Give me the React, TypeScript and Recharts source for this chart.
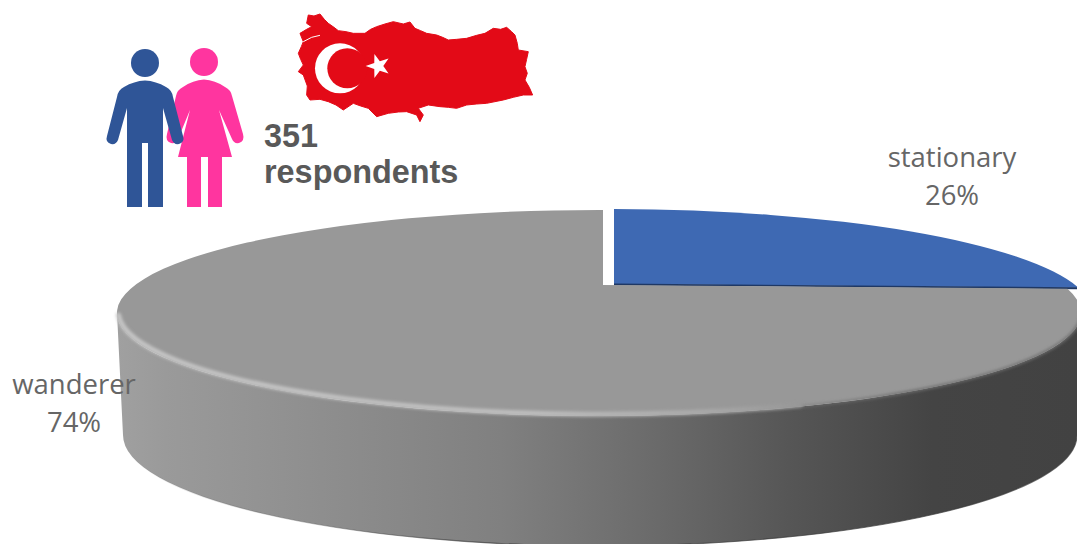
import { PieChart, Pie } from "recharts";

const categories = ["stationary", "wanderer"];
const shares = [26, 74];
const sliceColors = ["#3e69b3", "#989898"];
const respondentLines = ["351", "respondents"];

const chartData = categories.map((name, i) => ({
  name,
  value: shares[i],
  fill: sliceColors[i],
}));

// disc outline, seen in perspective
const TOP = { x: 599, y: 313, rx: 482, ry: 103 };
const BOTTOM = { x: 600, y: 435, rx: 477, ry: 111 };
const TILT = 0.285;
const DEPTH_SCALE = 60;
const EXPLODE = { x: 11, y: -1 };

const labelPositions: Record<string, { x: number; y: number }> = {
  stationary: { x: 952, y: 167 },
  wanderer: { x: 74, y: 394 },
};

// where the ray for a pie angle leaves the top ellipse
function rimPoint(angle: number, cx: number, cy: number, radius: number) {
  const rad = (angle * Math.PI) / 180;
  const u = Math.cos(rad);
  const v = Math.sin(rad);
  const w = 1 + TILT * v;
  const dx = (radius * u) / w;
  const dy = (-DEPTH_SCALE * v) / w;
  const px = (cx - TOP.x) / TOP.rx;
  const py = (cy - TOP.y) / TOP.ry;
  const qx = dx / TOP.rx;
  const qy = dy / TOP.ry;
  const a = qx * qx + qy * qy;
  const b = 2 * (px * qx + py * qy);
  const c = px * px + py * py - 1;
  const t = (-b + Math.sqrt(b * b - 4 * a * c)) / (2 * a);
  return { x: cx + t * dx, y: cy + t * dy };
}

function DiscSlice(props: any) {
  const { cx, cy, outerRadius, startAngle, endAngle, fill } = props;
  const from = rimPoint(startAngle, cx, cy, outerRadius);
  const to = rimPoint(endAngle, cx, cy, outerRadius);
  const large = Math.abs(endAngle - startAngle) > 180 ? 1 : 0;
  const face = `M${cx} ${cy} L${from.x} ${from.y} A${TOP.rx} ${TOP.ry} 0 ${large} 1 ${to.x} ${to.y} Z`;
  const spansFront = startAngle > -90 && endAngle < -90;

  if (!spansFront) {
    // the exploded slice sits a little to the right, with a thin dark lip
    return (
      <g transform={`translate(${EXPLODE.x} ${EXPLODE.y})`}>
        <path d={face} fill={fill} />
        <line x1={cx} y1={cy + 0.5} x2={to.x} y2={to.y + 0.5} stroke="#1f3864" strokeWidth={1.8} />
      </g>
    );
  }

  const left = TOP.x - TOP.rx;
  const right = TOP.x + TOP.rx;
  const rimFront = `M${left} ${TOP.y} A${TOP.rx} ${TOP.ry} 0 0 0 ${right} ${TOP.y}`;
  const wall =
    `${rimFront} L${BOTTOM.x + BOTTOM.rx} ${BOTTOM.y} ` +
    `A${BOTTOM.rx} ${BOTTOM.ry} 0 0 1 ${BOTTOM.x - BOTTOM.rx} ${BOTTOM.y} Z`;
  const lowerEdge = `M${BOTTOM.x - BOTTOM.rx} ${BOTTOM.y} A${BOTTOM.rx} ${BOTTOM.ry} 0 0 0 ${BOTTOM.x + BOTTOM.rx} ${BOTTOM.y}`;

  return (
    <g>
      <defs>
        <linearGradient id="wallShade" gradientUnits="userSpaceOnUse" x1={117} y1={0} x2={1077} y2={0}>
          <stop offset="0%" stopColor="#a0a0a0" />
          <stop offset="5%" stopColor="#9a9a9a" />
          <stop offset="20%" stopColor="#8f8f8f" />
          <stop offset="40%" stopColor="#808080" />
          <stop offset="55%" stopColor="#6c6c6c" />
          <stop offset="70%" stopColor="#565656" />
          <stop offset="85%" stopColor="#444444" />
          <stop offset="100%" stopColor="#424242" />
        </linearGradient>
        <linearGradient id="rimGlow" gradientUnits="userSpaceOnUse" x1={117} y1={0} x2={800} y2={0}>
          <stop offset="0%" stopColor="#c4c4c4" />
          <stop offset="60%" stopColor="#bebebe" />
          <stop offset="85%" stopColor="#aaaaaa" />
          <stop offset="100%" stopColor="#989898" />
        </linearGradient>
        <linearGradient id="rimFade" gradientUnits="userSpaceOnUse" x1={700} y1={0} x2={900} y2={0}>
          <stop offset="0%" stopColor="#808080" stopOpacity={0} />
          <stop offset="100%" stopColor="#6e6e6e" stopOpacity={1} />
        </linearGradient>
        <linearGradient id="edgeShade" gradientUnits="userSpaceOnUse" x1={125} y1={0} x2={500} y2={0}>
          <stop offset="0%" stopColor="#4a4a4a" stopOpacity={0} />
          <stop offset="100%" stopColor="#3a3a3a" stopOpacity={0.7} />
        </linearGradient>
        <filter id="rimSoft" x="-5%" y="-10%" width="110%" height="120%">
          <feGaussianBlur stdDeviation="1.5" />
        </filter>
      </defs>
      <path d={wall} fill="url(#wallShade)" />
      <path d={lowerEdge} fill="none" stroke="url(#edgeShade)" strokeWidth={1.2} />
      <path d={face} fill={fill} />
      <path d={rimFront} fill="none" stroke="url(#rimFade)" strokeWidth={2.5} filter="url(#rimSoft)" />
      <path
        d={`M${left + 1.5} ${TOP.y + 2} A${TOP.rx} ${TOP.ry} 0 0 0 800 ${TOP.y + 92}`}
        fill="none"
        stroke="url(#rimGlow)"
        strokeWidth={5}
        strokeLinecap="round"
        filter="url(#rimSoft)"
      />
    </g>
  );
}

function SliceLabel(props: any) {
  const pos = labelPositions[props.name];
  return (
    <text
      x={pos.x}
      y={pos.y}
      textAnchor="middle"
      fontFamily="'Open Sans', sans-serif"
      fontSize={27.5}
      fill="#666666"
    >
      <tspan x={pos.x}>{props.name}</tspan>
      <tspan x={pos.x} dy={38}>{`${props.value}%`}</tspan>
    </text>
  );
}

function People() {
  return (
    <g>
      <circle cx={204} cy={62} r={14} fill="#ff359f" />
      <path
        fill="#ff359f"
        d="M187 207 V157 H178 L190 110 L178 139 Q176 144 171 143 Q165 141 167 134 L176 96 Q177 90 183 87 Q193 80 204 79.5 Q215 80 225 87 Q231 90 232 96 L243 134 Q245 141 239 143 Q234 144 232 139 L219 110 L232 157 H222 V207 H208 V157 H201 V207 Z"
      />
      <circle cx={145} cy={63} r={14} fill="#2f5597" />
      <path
        fill="#2f5597"
        d="M127 207 V108 L118 140 Q116 145 111 144 Q105 142 107 136 L117 97 Q118 90 124 87 Q134 81 145 80.5 Q156 81 166 87 Q172 90 173 97 L183 136 Q185 142 179 144 Q174 145 172 140 L163 108 V207 H148 V143 H142 V207 Z"
      />
    </g>
  );
}

function starPoints(cx: number, cy: number, outer: number, inner: number, first: number) {
  const pts: string[] = [];
  for (let i = 0; i < 10; i++) {
    const a = ((first + i * 36) * Math.PI) / 180;
    const r = i % 2 === 0 ? outer : inner;
    pts.push(`${(cx + r * Math.cos(a)).toFixed(1)},${(cy + r * Math.sin(a)).toFixed(1)}`);
  }
  return pts.join(" ");
}

function TurkeyMap() {
  return (
    <g transform="translate(90 0) scale(0.3333)">
      <path
        fill="#e30a17"
        stroke="#e30a17"
        strokeWidth={3}
        strokeLinejoin="round"
        d="M655 45 L672 48 L690 42 L703 58 L715 70 L732 82 L745 92 L768 95 L790 100 L825 100 L842 88 L860 80 L885 72 L910 65 L940 72 L960 66 L975 85 L992 92 L1010 100 L1040 105 L1058 112 L1075 120 L1100 118 L1130 115 L1160 106 L1185 100 L1210 85 L1232 88 L1250 82 L1265 95 L1275 105 L1282 130 L1285 150 L1315 155 L1310 178 L1305 200 L1312 220 L1305 240 L1318 262 L1328 285 L1300 285 L1270 292 L1240 300 L1190 310 L1160 312 L1130 315 L1100 325 L1075 322 L1050 320 L1015 315 L985 325 L1000 345 L990 365 L980 345 L950 335 L925 336 L895 340 L860 350 L835 325 L812 318 L790 310 L760 330 L738 315 L715 305 L690 298 L660 300 L650 285 L652 258 L640 225 L625 215 L640 195 L632 178 L625 160 L634 140 L640 125 L630 100 L650 88 L665 80 L650 70 Z"
      />
      <path d="M640 125 L665 112 L690 106" fill="none" stroke="#ffffff" strokeWidth={3} />
      <circle cx={750} cy={205} r={75} fill="#ffffff" />
      <circle cx={772} cy={205} r={60} fill="#e30a17" />
      <polygon points={starPoints(865, 198, 38, 15, 180)} fill="#ffffff" />
    </g>
  );
}

export default function App() {
  return (
    <div style={{ position: "absolute", left: 0, top: 0, width: 1077, height: 544, overflow: "hidden", background: "#fff" }}>
      <PieChart width={1077} height={544} margin={{ top: 0, right: 0, bottom: 0, left: 0 }}>
        <Pie
          data={chartData}
          dataKey="value"
          nameKey="name"
          cx={603}
          cy={285}
          innerRadius={0}
          outerRadius={466}
          startAngle={90}
          endAngle={-270}
          stroke="none"
          shape={DiscSlice}
          label={SliceLabel}
          labelLine={false}
          isAnimationActive={false}
        />
        <People />
        <TurkeyMap />
        <text fontFamily="'Liberation Sans', Arial, sans-serif" fontWeight={700} fontSize={32.4} fill="#595959">
          <tspan x={264} y={147}>{respondentLines[0]}</tspan>
          <tspan x={264} y={183}>{respondentLines[1]}</tspan>
        </text>
      </PieChart>
    </div>
  );
}
